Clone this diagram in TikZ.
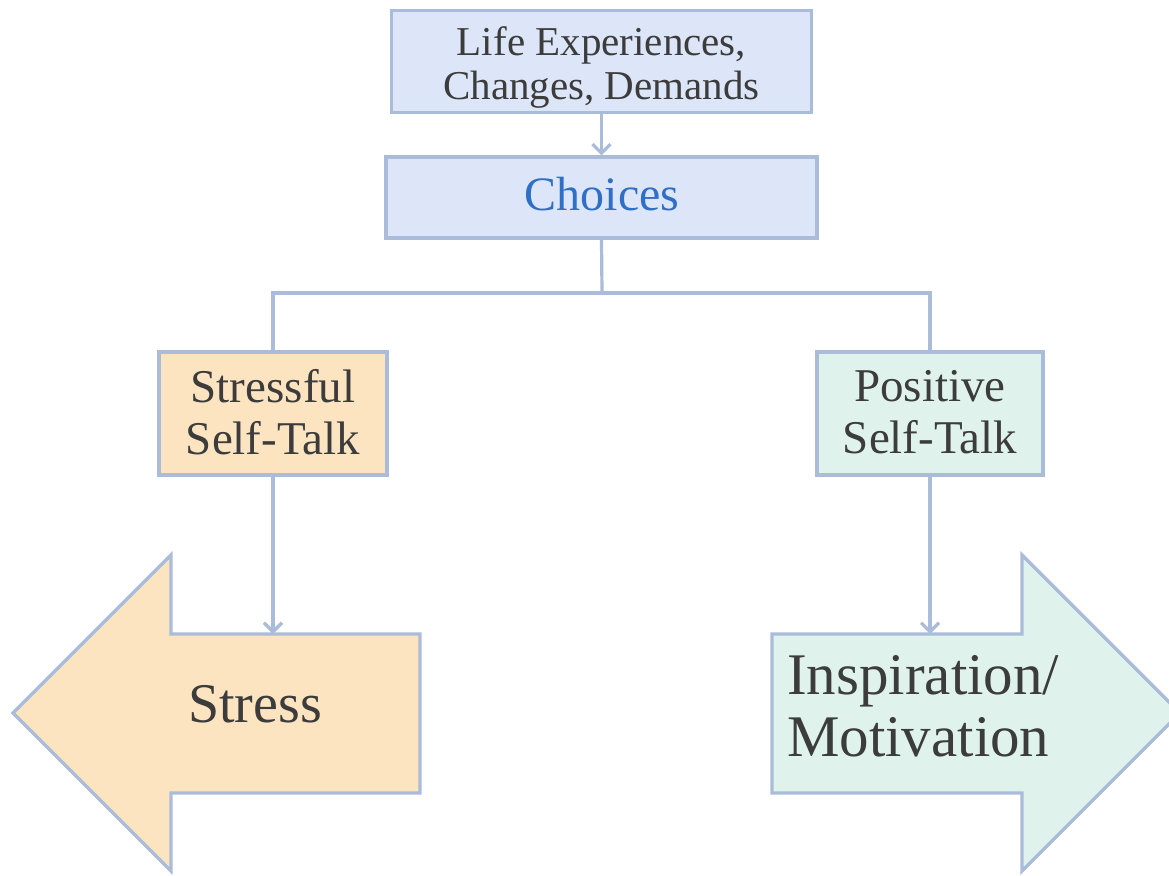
\documentclass[tikz,border=0pt]{standalone}
\usepackage{fontspec}
\setmainfont{Liberation Serif}
\usetikzlibrary{arrows.meta}

\definecolor{edgeblue}{HTML}{AABCD9}
\definecolor{boxblue}{HTML}{DCE6F8}
\definecolor{peach}{HTML}{FDE4C1}
\definecolor{mint}{HTML}{DFF3EC}
\definecolor{textgray}{HTML}{3C3C3C}
\definecolor{choiceblue}{HTML}{2F6FC6}

\begin{document}
\begin{tikzpicture}[x=1pt, y=-1pt, line join=miter,
  box/.style={draw=edgeblue, line width=3.4pt, inner sep=0pt},
  txt/.style={text=textgray, inner sep=0pt, align=center},
  link/.style={draw=edgeblue, line width=3.2pt},
  flow/.style={link, -{Straight Barb[length=9pt, width=18pt, line width=3.2pt]}},
  bigarrow/.style={draw=edgeblue, line width=3.4pt}
]
\useasboundingbox (0,0) rectangle (1169,875);
\clip (0,0) rectangle (1169,875);

% top boxes
\node[box, fill=boxblue, minimum width=420pt, minimum height=102pt] (life) at (601.5,61.5) {};
\node[txt, font=\fontsize{41}{44}\selectfont] (lifetxt) at (601.5,67.5) {Life Experiences,\\Changes, Demands};

\node[box, fill=boxblue, minimum width=431pt, minimum height=81pt] (choices) at (601.5,197.5) {};
\node[txt, text=choiceblue, anchor=base, font=\fontsize{48}{56}\selectfont] (choicestxt) at (602,210) {Choices};

% middle boxes
\node[box, fill=peach, minimum width=228pt, minimum height=123pt] (stressful) at (273,413.5) {};
\node[txt, font=\fontsize{47}{52}\selectfont] (stressfultxt) at (273,412) {Stressful\\Self-Talk};

\node[box, fill=mint, minimum width=226pt, minimum height=123pt] (positive) at (930,413.5) {};
\node[txt, font=\fontsize{47}{52}\selectfont] (positivetxt) at (930,412) {Positive\\Self-Talk};

% outcome arrows
\draw[bigarrow, fill=peach] (420,634) -- (171,634) -- (171,555) -- (13,713) -- (171,871) -- (171,793) -- (420,793) -- cycle;
\coordinate (stresstop) at (273,634);
\node[txt, anchor=base, font=\fontsize{56}{64}\selectfont] (stresstxt) at (255,722) {Stress};

\draw[bigarrow, fill=mint] (772,634) -- (1022,634) -- (1022,555) -- (1180,713) -- (1022,871) -- (1022,793) -- (772,793) -- cycle;
\coordinate (inspiretop) at (930,634);
\node[txt, align=left, anchor=west, font=\fontsize{59}{62}\selectfont] (inspiretxt) at (787,706) {Inspiration/\\Motivation};

% connectors
\coordinate (split) at (602,293);
\draw[flow] (life.south) -- (choices.north);
\draw[link] (choices.south) -- (split);
\draw[link] (stressful.north) |- (split) -| (positive.north);
\draw[flow] (stressful.south) -- (stresstop);
\draw[flow] (positive.south) -- (inspiretop);
\end{tikzpicture}
\end{document}
